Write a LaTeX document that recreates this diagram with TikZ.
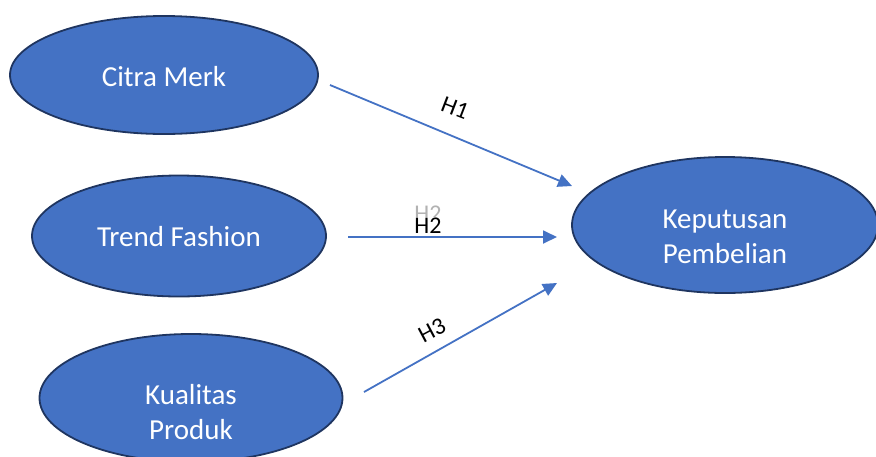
\documentclass[tikz,border=0pt]{standalone}
\usepackage{fontspec}
\setmainfont{Carlito}
\usetikzlibrary{shapes.geometric,arrows.meta}
\definecolor{fillblue}{HTML}{4472C4}
\definecolor{edgeblue}{HTML}{1F3560}
\begin{document}
\begin{tikzpicture}[x=1pt,y=-1pt,
  var/.style={ellipse,draw=edgeblue,line width=1.8pt,fill=fillblue,inner sep=0pt},
  vtext/.style={text=white,align=center,font=\fontsize{29}{35}\selectfont,inner sep=0pt},
  link/.style={draw=fillblue,line width=1.8pt,-{Triangle[length=14pt,width=13pt]}},
  hlab/.style={font=\fontsize{24}{28}\selectfont,inner sep=0pt}]
\useasboundingbox (0,0) rectangle (876,456);
\clip (0,0) rectangle (876,456);
\node[var,minimum width=308pt,minimum height=118pt,
  label={[vtext,yshift=-2pt]center:Citra Merk}] (cm) at (164,75) {};
\node[var,minimum width=294pt,minimum height=121pt,
  label={[vtext,yshift=-1pt]center:Trend Fashion}] (tf) at (179,236) {};
\node[var,minimum width=303pt,minimum height=128pt,
  label={[vtext,yshift=-14pt]center:Kualitas\\Produk}] (kp) at (191,398) {};
\node[var,minimum width=306pt,minimum height=136pt,
  label={[vtext,yshift=-12pt]center:Keputusan\\Pembelian}] (kb) at (725,225) {};
\coordinate (s1) at (330,85);
\coordinate (e1) at (572,186);
\coordinate (s2) at (348,237);
\coordinate (e2) at (557,237);
\coordinate (s3) at (364,392);
\coordinate (e3) at (557,283);
\draw[link] (s1) -- (e1);
\draw[link] (s2) -- (e2);
\draw[link] (s3) -- (e3);
\node[hlab,rotate=-21] (h1) at (455,108) {H1};
\node[hlab,text=black!30] (h2g) at (428,214) {H2};
\node[hlab,fill=white,inner ysep=1pt] (h2) at (428,226) {H2};
\node[hlab,rotate=28] (h3) at (432,330) {H3};
\end{tikzpicture}
\end{document}
